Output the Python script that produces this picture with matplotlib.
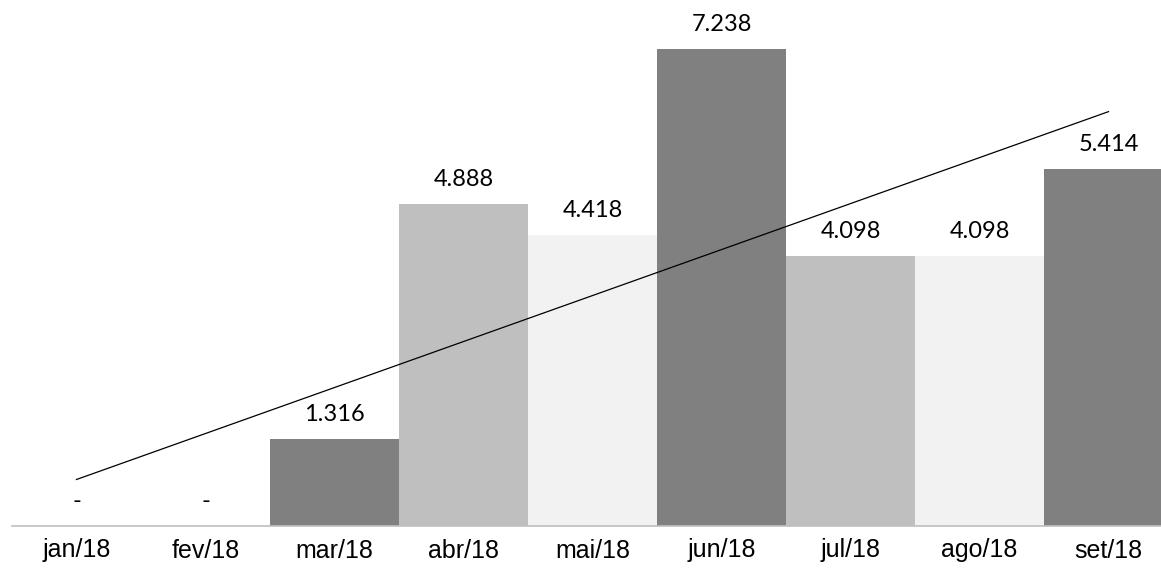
import matplotlib
matplotlib.use("Agg")
import matplotlib.pyplot as plt
import numpy as np

months = ["jan/18", "fev/18", "mar/18", "abr/18", "mai/18", "jun/18", "jul/18", "ago/18", "set/18"]
values = [0, 0, 1316, 4888, 4418, 7238, 4098, 4098, 5414]
palette = ["#bfbfbf", "#f2f2f2", "#808080"]

W, H = 1161, 572
fig = plt.figure(figsize=(W / 100, H / 100), dpi=100)
ax = fig.add_axes([12 / W, (H - 526) / H, 1 - 12 / W, 526 / H])

x = np.arange(len(months))
colors = [palette[i % 3] for i in x]
ax.bar(x, values, width=1.0, color=colors, edgecolor="none", zorder=2)

# linear trend line
coef = np.polyfit(x, values, 1)
ax.plot(x, np.polyval(coef, x), color="black", lw=0.9, zorder=3)

def fmt(v):
    if v == 0:
        return "-"
    return f"{v:,}".replace(",", ".")

for xi, v in zip(x, values):
    ax.annotate(fmt(v), (xi, v), xytext=(0, 17.5), textcoords="offset points",
                ha="center", va="center", fontsize=17, family="Lato", color="black")

ax.set_xlim(-0.5, -0.5 + (W - 12) / 129.0)
ax.set_ylim(0, 7238 * 526 / 477)
ax.set_xticks(x)
ax.set_xticklabels(months, fontsize=18, family="Liberation Sans")
ax.tick_params(axis="x", length=0, pad=9)
ax.set_yticks([])
for s in ["top", "right", "left"]:
    ax.spines[s].set_visible(False)
ax.spines["bottom"].set_color("#bfbfbf")
ax.spines["bottom"].set_linewidth(1.2)
ax.set_facecolor("none")

fig.savefig("out.png", dpi=100)
